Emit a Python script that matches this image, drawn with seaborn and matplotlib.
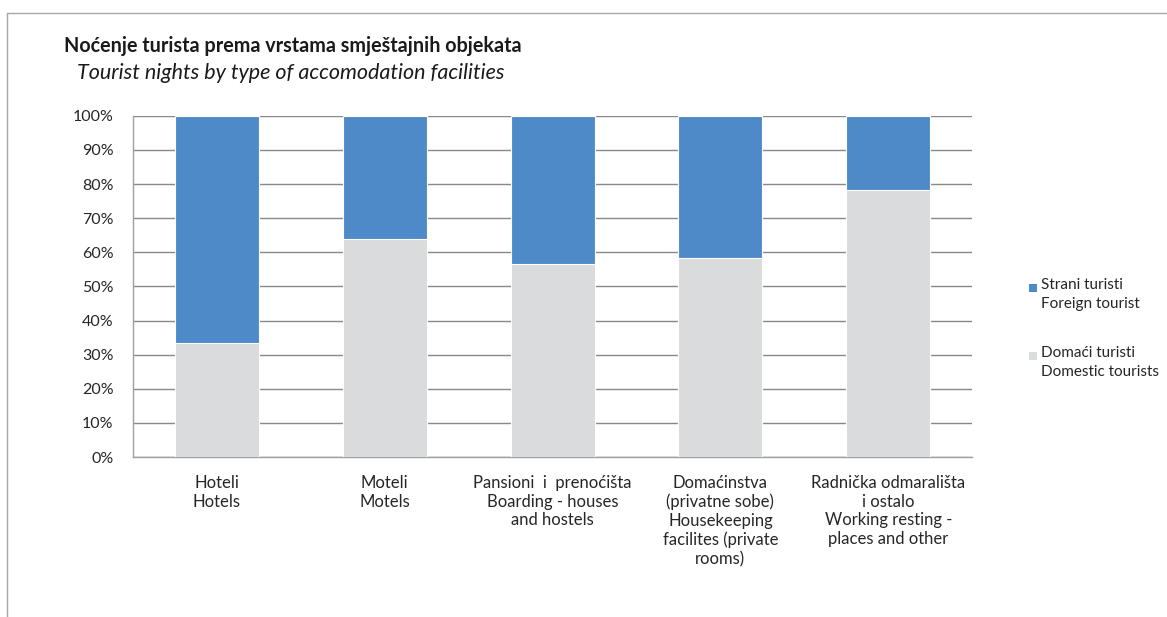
import numpy as np
import pandas as pd
import seaborn as sns
import matplotlib.pyplot as plt
from matplotlib.patches import Rectangle
from matplotlib.lines import Line2D
from matplotlib.ticker import FuncFormatter

# Data (share of tourist nights, %)
categories = [
    "Hoteli\nHotels",
    "Moteli\nMotels",
    "Pansioni  i  prenoćišta\nBoarding - houses\nand hostels",
    "Domaćinstva\n(privatne sobe)\nHousekeeping\nfacilites (private\nrooms)",
    "Radnička odmarališta\ni ostalo\nWorking resting -\nplaces and other",
]
domestic = [33.5, 63.8, 56.7, 58.2, 78.4]
foreign = [66.5, 36.2, 43.3, 41.8, 21.6]
legend_labels = ["Strani turisti\nForeign tourist", "Domaći turisti\nDomestic tourists"]

blue = "#4F8AC8"
grey = "#DADBDC"

df = pd.DataFrame({"cat": categories, "domestic": domestic, "foreign": foreign})
df["total"] = df["domestic"] + df["foreign"]

sns.set_style("white")
plt.rcParams["font.family"] = ["Lato", "DejaVu Sans"]

fig = plt.figure(figsize=(11.67, 6.17), dpi=100)
ax = fig.add_axes([0.114, 0.2593, 0.719, 0.553])

# stacked bars: total (blue) first, domestic (grey) over it
sns.barplot(data=df, x="cat", y="total", color=blue, width=0.5, ax=ax,
            edgecolor="white", linewidth=0.8, saturation=1, zorder=2)
sns.barplot(data=df, x="cat", y="domestic", color=grey, width=0.5, ax=ax,
            edgecolor="white", linewidth=0.8, saturation=1, zorder=3)

ax.set_ylim(0, 100)
ax.set_xlim(-0.5, len(categories) - 0.5)
ax.set_yticks(np.arange(0, 101, 10))
ax.yaxis.set_major_formatter(FuncFormatter(lambda v, p: f"{int(v)}%"))
ax.yaxis.grid(True, color="#888888", linewidth=1.0, zorder=0)
ax.set_axisbelow(True)
ax.set_xlabel("")
ax.set_ylabel("")

for s in ["top", "right"]:
    ax.spines[s].set_visible(False)
for s in ["left", "bottom"]:
    ax.spines[s].set_color("#A0A0A0")
    ax.spines[s].set_linewidth(1.0)

ax.tick_params(axis="y", length=0, labelsize=11.5, pad=14)
ax.tick_params(axis="x", length=0, labelsize=12, pad=13)
for lab in ax.get_xticklabels():
    lab.set_linespacing(1.2)
    lab.set_verticalalignment("top")
    lab.set_color("#262626")
for lab in ax.get_yticklabels():
    lab.set_color("#262626")

# titles
fig.text(0.055, 0.926, "Noćenje turista prema vrstama smještajnih objekata",
         fontsize=14.2, fontweight="bold", color="#1A1A1A", va="center")
fig.text(0.066, 0.882, "Tourist nights by type of accomodation facilities",
         fontsize=15.5, style="italic", color="#1A1A1A", va="center")

# legend (drawn by hand so the swatch sits on the first text line)
leg_colors = [blue, grey]
leg_y = [1 - 288 / 617, 1 - 356 / 617]
for c, y, lab in zip(leg_colors, leg_y, legend_labels):
    fig.patches.append(Rectangle((1029 / 1167, y - 4 / 617), 8 / 1167, 8 / 617,
                                 transform=fig.transFigure, facecolor=c, edgecolor="none"))
    fig.text(1041 / 1167, y + 10 / 617, lab, fontsize=11, color="#262626",
             va="top", ha="left", linespacing=1.45)

# outer chart frame
fig.add_artist(Line2D([7 / 1167, 7 / 1167], [0, 1 - 13 / 617], transform=fig.transFigure,
                      color="#A6A6A6", linewidth=1.0))
fig.add_artist(Line2D([7 / 1167, 1], [1 - 13 / 617, 1 - 13 / 617], transform=fig.transFigure,
                      color="#A6A6A6", linewidth=1.0))

fig.savefig("out.png", dpi=100)
